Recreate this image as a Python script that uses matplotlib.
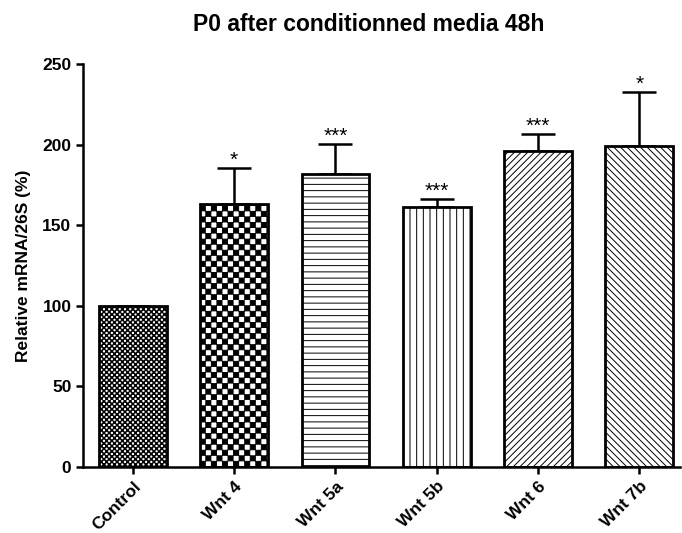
"""Relative mRNA bar chart with hatched bars (P0 after conditioned media)."""

import matplotlib
matplotlib.use("Agg")
import matplotlib.pyplot as plt
import matplotlib.hatch as mhatch
import numpy as np
from matplotlib.path import Path

groups = ["Control", "Wnt 4", "Wnt 5a", "Wnt 5b", "Wnt 6", "Wnt 7b"]
means = [100, 163, 182, 161, 196, 199]
errors_up = [0, 22.5, 18.5, 5, 10.5, 33.5]
stars = ["", "*", "***", "***", "***", "*"]
hatches = ["x", "X", "-", "|", "/", "\\"]

plt.rcParams.update(
    {
        "font.family": ["Liberation Sans", "DejaVu Sans"],
        "font.weight": "bold",
        "axes.spines.top": False,
        "axes.spines.right": False,
        "hatch.linewidth": 0.7,
    }
)


# custom hatch patterns: tile is one inch (dpi pixels) wide
class Checker(mhatch.HatchPatternBase):
    def __init__(self, hatch, density, char, cells, inset):
        self.cells = cells if char in hatch else 0
        self.inset = inset
        self.n_sq = self.cells * self.cells // 2
        self.num_vertices = self.n_sq * 5

    def set_vertices_and_codes(self, vertices, codes):
        if self.n_sq == 0:
            return
        step = 1.0 / self.cells
        k = 0
        for i in range(self.cells):
            for j in range(self.cells):
                if (i + j) % 2:
                    continue
                x0, y0 = i * step + self.inset, j * step + self.inset
                x1, y1 = (i + 1) * step - self.inset, (j + 1) * step - self.inset
                vertices[k:k + 5] = [(x0, y0), (x1, y0), (x1, y1), (x0, y1), (x0, y0)]
                codes[k:k + 5] = [Path.MOVETO, Path.LINETO, Path.LINETO, Path.LINETO, Path.CLOSEPOLY]
                k += 5


class SmallChecker(Checker):
    def __init__(self, hatch, density):
        super().__init__(hatch, density, "x", 38, 0.0025)


class BigChecker(Checker):
    def __init__(self, hatch, density):
        super().__init__(hatch, density, "X", 18, 0.0025)


class Lines(mhatch.HatchPatternBase):
    char = "-"
    count = 16

    def __init__(self, hatch, density):
        self.num_lines = self.count if self.char in hatch else 0
        self.num_vertices = self.num_lines * 2

    def set_vertices_and_codes(self, vertices, codes):
        if self.num_lines == 0:
            return
        steps, size = np.linspace(0.0, 1.0, self.num_lines, False, retstep=True)
        steps += size / 2
        self.fill(vertices, steps)
        codes[0::2] = Path.MOVETO
        codes[1::2] = Path.LINETO

    def fill(self, vertices, steps):
        vertices[0::2, 0] = 0.0
        vertices[0::2, 1] = steps
        vertices[1::2, 0] = 1.0
        vertices[1::2, 1] = steps


class VLines(Lines):
    char = "|"
    count = 15

    def fill(self, vertices, steps):
        vertices[0::2, 0] = steps
        vertices[0::2, 1] = 0.0
        vertices[1::2, 0] = steps
        vertices[1::2, 1] = 1.0


class Diag(Lines):
    char = "/"
    count = 30

    def __init__(self, hatch, density):
        self.num_lines = self.count + 1 if self.char in hatch else 0
        self.num_vertices = self.num_lines * 2

    def set_vertices_and_codes(self, vertices, codes):
        if self.num_lines == 0:
            return
        steps = np.linspace(-0.5, 0.5, self.num_lines, True)
        self.fill(vertices, steps)
        codes[0::2] = Path.MOVETO
        codes[1::2] = Path.LINETO

    def fill(self, vertices, steps):
        vertices[0::2, 0] = 0.0 + steps
        vertices[0::2, 1] = 0.0 - steps
        vertices[1::2, 0] = 1.0 + steps
        vertices[1::2, 1] = 1.0 - steps


class AntiDiag(Diag):
    char = "\\"
    count = 30

    def fill(self, vertices, steps):
        vertices[0::2, 0] = 0.0 + steps
        vertices[0::2, 1] = 1.0 + steps
        vertices[1::2, 0] = 1.0 + steps
        vertices[1::2, 1] = 0.0 + steps


mhatch._hatch_types = [SmallChecker, BigChecker, Lines, VLines, Diag, AntiDiag]

fig = plt.figure(figsize=(6.82, 5.33), dpi=100)
ax = fig.add_axes([0.122, 0.124, 0.875, 0.756])

x = np.arange(len(groups))
bars = ax.bar(x, means, width=0.67, color="white", edgecolor="black", linewidth=2.0, zorder=2)
for bar, h in zip(bars, hatches):
    bar.set_hatch(h)

ax.errorbar(
    x, means, yerr=[np.zeros(len(x)), errors_up], fmt="none", ecolor="black",
    elinewidth=1.8, capsize=12, capthick=1.8, zorder=1,
)
for xi, m, e, s in zip(x, means, errors_up, stars):
    if s:
        ax.annotate(s, (xi, m + e), xytext=(0, 1.5), textcoords="offset points",
                    ha="center", va="baseline", fontsize=15, fontweight="normal")

ax.set_xlim(-0.49, 5.4)
ax.set_ylim(0, 250)
ax.set_yticks([0, 50, 100, 150, 200, 250])
ax.set_xticks(x)
ax.set_xticklabels(groups, rotation=45, ha="right", rotation_mode="anchor")
for side in ["left", "bottom"]:
    ax.spines[side].set_linewidth(1.8)
ax.tick_params(width=1.8, length=5, labelsize=12.5)
ax.set_ylabel("Relative mRNA/26S (%)", fontsize=12.5, fontweight="bold", labelpad=8)
ax.set_title("P0 after conditionned media 48h", fontsize=16.5, fontweight="bold",
             pad=24, x=0.479)

fig.savefig("out.png", dpi=100)
